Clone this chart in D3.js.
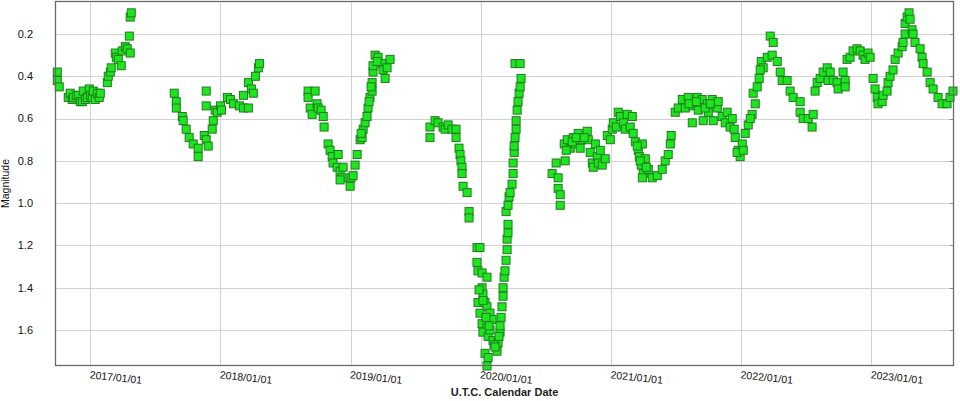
<!DOCTYPE html>
<html>
<head>
<meta charset="utf-8">
<script src="https://cdn.jsdelivr.net/npm/d3@7"></script>
<style>
  body { margin: 0; background: #fff; }
  svg { display: block; font-family: "Liberation Sans", Arial, sans-serif; }
</style>
</head>
<body>
<div id="chart"></div>
<script>
const season2016 = [
  [2016.747,0.38],[2016.747,0.42],[2016.762,0.45],[2016.831,0.50],[2016.846,0.48],[2016.862,0.51],
  [2016.869,0.50],[2016.892,0.49],[2016.908,0.49],[2016.923,0.52],[2016.939,0.52],[2016.946,0.47],
  [2016.962,0.51],[2016.977,0.50],[2016.992,0.46],[2017.000,0.49],[2017.015,0.50],[2017.023,0.47],
  [2017.038,0.51],[2017.054,0.48],[2017.069,0.50],[2017.077,0.48],[2017.131,0.43],[2017.138,0.40],
  [2017.154,0.38],[2017.161,0.36],[2017.192,0.29],[2017.200,0.31],[2017.215,0.32],[2017.238,0.35],
  [2017.246,0.28],[2017.269,0.26],[2017.284,0.27],[2017.307,0.29],[2017.300,0.21],[2017.307,0.12],
  [2017.315,0.10]
];
const season2017 = [
  [2017.645,0.48],[2017.661,0.52],[2017.661,0.55],[2017.707,0.59],[2017.714,0.61],[2017.737,0.65],
  [2017.760,0.69],[2017.791,0.72],[2017.829,0.74],[2017.829,0.78],[2017.876,0.68],[2017.891,0.70],
  [2017.906,0.73],[2017.891,0.47],[2017.891,0.54],[2017.937,0.65],[2017.945,0.61],[2017.960,0.56],
  [2017.975,0.57],[2018.000,0.54],[2018.008,0.56],[2018.054,0.50],[2018.077,0.51],[2018.100,0.53],
  [2018.146,0.54],[2018.177,0.49],[2018.177,0.55],[2018.215,0.43],[2018.215,0.55],[2018.238,0.46],
  [2018.253,0.48],[2018.269,0.40],[2018.292,0.36],[2018.300,0.34]
];
const season2018 = [
  [2018.674,0.47],[2018.674,0.50],[2018.728,0.47],[2018.690,0.55],[2018.705,0.58],[2018.743,0.53],
  [2018.751,0.55],[2018.774,0.56],[2018.790,0.59],[2018.797,0.64],[2018.828,0.72],[2018.843,0.75],
  [2018.859,0.78],[2018.866,0.81],[2018.897,0.83],[2018.905,0.77],[2018.920,0.85],[2018.935,0.88],
  [2018.943,0.83],[2018.920,0.89],[2018.997,0.92],[2019.004,0.88],[2019.020,0.87],[2019.035,0.82],
  [2019.051,0.77],[2019.074,0.70],[2019.089,0.69],[2019.097,0.65],[2019.112,0.62],[2019.127,0.59],
  [2019.135,0.55],[2019.150,0.50],[2019.166,0.47],[2019.166,0.43],[2019.173,0.38],[2019.173,0.35],
  [2019.189,0.30],[2019.212,0.31],[2019.243,0.34],[2019.250,0.37],[2019.266,0.41],[2019.281,0.36],
  [2019.304,0.32],[2019.082,0.67],[2019.143,0.52],[2019.158,0.45],[2019.205,0.33]
];
const season2019 = [
  [2019.611,0.64],[2019.611,0.69],[2019.650,0.61],[2019.673,0.62],[2019.711,0.64],[2019.727,0.65],
  [2019.750,0.63],[2019.780,0.65],[2019.811,0.65],[2019.811,0.69],[2019.834,0.74],[2019.842,0.77],
  [2019.849,0.80],[2019.857,0.83],[2019.857,0.86],[2019.865,0.92],[2019.896,0.95],[2019.911,1.04],
  [2019.911,1.07],[2019.972,1.21],[2019.995,1.21],[2019.972,1.28],[2019.980,1.32],[2020.011,1.33],
  [2020.049,1.35],[2020.011,1.40],[2020.018,1.43],[2019.980,1.47],[2020.034,1.47],[2020.049,1.49],
  [2019.995,1.52],[2020.072,1.52],[2020.011,1.57],[2020.049,1.59],[2020.088,1.55],[2020.018,1.61],
  [2020.057,1.63],[2020.095,1.65],[2020.034,1.71],[2020.057,1.73],[2020.049,1.77],[2020.126,1.70],
  [2020.134,1.66],[2020.149,1.61],[2020.149,1.58],[2020.157,1.54],[2020.164,1.49],[2020.172,1.44],
  [2020.172,1.40],[2020.180,1.35],[2020.187,1.32],[2020.195,1.27],[2020.203,1.22],[2020.203,1.17],
  [2020.210,1.14],[2020.210,1.10],[2020.195,1.04],[2020.210,1.01],[2020.218,0.97],[2020.226,0.95],
  [2020.241,0.91],[2020.249,0.86],[2020.249,0.81],[2020.257,0.76],[2020.257,0.73],[2020.264,0.69],
  [2020.272,0.65],[2020.272,0.61],[2020.280,0.56],[2020.287,0.52],[2020.295,0.48],[2020.303,0.45],
  [2020.310,0.41],[2020.264,0.34],[2020.303,0.34],[2020.018,1.46],[2020.041,1.54],[2020.072,1.60],
  [2020.103,1.67],[2019.988,1.41],[2020.065,1.58],[2020.111,1.68],[2020.141,1.63]
];
const season2020 = [
  [2020.548,0.86],[2020.579,0.81],[2020.594,0.88],[2020.594,0.93],[2020.610,0.96],[2020.610,1.01],
  [2020.641,0.72],[2020.648,0.80],[2020.664,0.70],[2020.687,0.74],[2020.710,0.69],[2020.725,0.72],
  [2020.748,0.67],[2020.763,0.74],[2020.779,0.70],[2020.817,0.66],[2020.825,0.70],[2020.840,0.76],
  [2020.856,0.81],[2020.863,0.83],[2020.879,0.72],[2020.894,0.78],[2020.902,0.81],[2020.917,0.75],
  [2020.932,0.82],[2020.955,0.79],[2020.971,0.68],[2020.994,0.70],[2021.009,0.65],[2021.017,0.62],
  [2021.040,0.64],[2021.055,0.57],[2021.071,0.59],[2021.094,0.62],[2021.109,0.65],[2021.124,0.58],
  [2021.147,0.64],[2021.163,0.59],[2021.170,0.67],[2021.186,0.71],[2021.209,0.75],[2021.217,0.78],
  [2021.232,0.82],[2021.240,0.72],[2021.247,0.86],[2021.263,0.79],[2021.286,0.84],[2021.240,0.88],
  [2021.316,0.88],[2021.355,0.87],[2021.393,0.84],[2021.416,0.80],[2021.439,0.77],[2021.455,0.72],
  [2021.462,0.68],[2020.656,0.75],[2020.702,0.71],[2020.733,0.69],[2020.794,0.69],[2021.201,0.73],
  [2021.224,0.80],[2021.270,0.83]
];
const season2021 = [
  [2021.493,0.57],[2021.516,0.55],[2021.547,0.51],[2021.570,0.55],[2021.593,0.50],[2021.624,0.62],
  [2021.631,0.54],[2021.662,0.50],[2021.670,0.56],[2021.700,0.51],[2021.708,0.61],[2021.739,0.53],
  [2021.747,0.57],[2021.777,0.51],[2021.785,0.61],[2021.816,0.55],[2021.823,0.52],[2021.854,0.59],
  [2021.877,0.62],[2021.892,0.57],[2021.915,0.64],[2021.931,0.60],[2021.954,0.69],[2021.977,0.75],
  [2021.992,0.78],[2022.008,0.72],[2021.969,0.76],[2022.031,0.67],[2022.054,0.63],[2022.084,0.58],
  [2022.092,0.48],[2022.108,0.53],[2022.123,0.45],[2022.138,0.41],[2022.154,0.33],[2022.169,0.36],
  [2022.200,0.31],[2022.223,0.21],[2022.246,0.24],[2022.238,0.30],[2022.277,0.33],[2022.300,0.38],
  [2022.315,0.42],[2022.353,0.42],[2022.376,0.47],[2022.399,0.50],[2022.453,0.52],[2022.453,0.57],
  [2022.476,0.60],[2022.515,0.60],[2022.545,0.64],[2022.553,0.58],[2021.600,0.53],[2021.655,0.52],
  [2021.723,0.55],[2021.762,0.53],[2021.946,0.65],[2022.016,0.75],[2022.070,0.60],[2022.146,0.37]
];
const season2022 = [
  [2022.568,0.47],[2022.584,0.43],[2022.607,0.41],[2022.630,0.38],[2022.661,0.36],[2022.668,0.42],
  [2022.684,0.38],[2022.707,0.42],[2022.737,0.43],[2022.745,0.46],[2022.783,0.38],[2022.799,0.42],
  [2022.799,0.45],[2022.814,0.32],[2022.837,0.31],[2022.860,0.28],[2022.891,0.27],[2022.914,0.28],
  [2022.937,0.30],[2022.952,0.32],[2022.975,0.29],[2022.991,0.31],[2023.014,0.41],[2023.029,0.46],
  [2023.045,0.50],[2023.052,0.53],[2023.083,0.52],[2023.091,0.49],[2023.121,0.47],[2023.129,0.43],
  [2023.144,0.40],[2023.167,0.37],[2023.183,0.32],[2023.206,0.29],[2023.237,0.26],[2023.244,0.24],
  [2023.260,0.20],[2023.260,0.15],[2023.275,0.12],[2023.290,0.10],[2023.298,0.13],[2023.313,0.18],
  [2023.321,0.20],[2023.336,0.24],[2023.375,0.27],[2023.390,0.31],[2023.398,0.34],[2023.429,0.38],
  [2023.452,0.43],[2023.475,0.46],[2023.513,0.50],[2023.544,0.53],[2023.582,0.53],[2023.605,0.50],
  [2023.628,0.47]
];
const seasons = [season2016, season2017, season2018, season2019, season2020, season2021, season2022];

const magTicks = [0.2, 0.4, 0.6, 0.8, 1.0, 1.2, 1.4, 1.6];
const magDomain = [0.044, 1.77];
const dateDomain = ["2016-09-24", "2023-08-21"];
const xTitle = "U.T.C. Calendar Date";
const yTitle = "Magnitude";

const W = 960, H = 401;
const margin = {top: 1, right: 6, bottom: 35, left: 55};
const width = W - margin.left - margin.right;
const height = H - margin.top - margin.bottom;

// decimal year -> Date (UTC)
function toDate(yr) {
  const y = Math.floor(yr);
  const start = Date.UTC(y, 0, 1), end = Date.UTC(y + 1, 0, 1);
  return new Date(start + (yr - y) * (end - start));
}

const svg = d3.select("#chart").append("svg")
  .attr("width", W)
  .attr("height", H);

const g = svg.append("g")
  .attr("transform", `translate(${margin.left},${margin.top})`);

const x = d3.scaleUtc()
  .domain(dateDomain.map(d => new Date(d + "T00:00:00Z")))
  .range([0, width]);

const y = d3.scaleLinear()
  .domain(magDomain)
  .range([0, height]);

const yearTicks = x.ticks(d3.utcYear.every(1));

// grid
g.append("g").selectAll("line")
  .data(magTicks)
  .join("line")
  .attr("x1", 0).attr("x2", width)
  .attr("y1", d => Math.round(y(d)) + 0.5).attr("y2", d => Math.round(y(d)) + 0.5)
  .attr("stroke", "#d2d2d2");

g.append("g").selectAll("line")
  .data(yearTicks)
  .join("line")
  .attr("x1", d => Math.round(x(d)) + 0.5).attr("x2", d => Math.round(x(d)) + 0.5)
  .attr("y1", 0).attr("y2", height)
  .attr("stroke", "#d2d2d2");

// small ticks on right edge
g.append("g").selectAll("line")
  .data(magTicks)
  .join("line")
  .attr("x1", width - 4).attr("x2", width)
  .attr("y1", d => Math.round(y(d)) + 0.5).attr("y2", d => Math.round(y(d)) + 0.5)
  .attr("stroke", "#888");

// points
const pts = seasons.flat();
g.append("g").selectAll("rect")
  .data(pts)
  .join("rect")
  .attr("x", d => x(toDate(d[0])) - 4)
  .attr("y", d => y(d[1]) - 4)
  .attr("width", 8)
  .attr("height", 8)
  .attr("fill", "#1ee61e")
  .attr("stroke", "#1f7a1f")
  .attr("stroke-width", 1);

// frame
g.append("rect")
  .attr("x", 0.5).attr("y", 0.5)
  .attr("width", width - 1).attr("height", height - 1)
  .attr("fill", "none")
  .attr("stroke", "#6a6a6a")
  .attr("stroke-width", 1.3);

// y tick labels
g.append("g").selectAll("text")
  .data(magTicks)
  .join("text")
  .attr("x", -22)
  .attr("y", d => y(d))
  .attr("dy", "0.35em")
  .attr("text-anchor", "end")
  .attr("font-size", 11)
  .attr("fill", "#111")
  .text(d3.format(".1f"));

// x tick labels, slightly tilted
const fmt = d3.utcFormat("%Y/%m/%d");
g.append("g").selectAll("text")
  .data(yearTicks)
  .join("text")
  .attr("transform", d => `translate(${x(d)},${height + 4}) rotate(6)`)
  .attr("dy", "0.8em")
  .attr("text-anchor", "start")
  .attr("font-size", 10.5)
  .attr("fill", "#111")
  .text(fmt);

// axis titles
svg.append("text")
  .attr("x", margin.left + width / 2)
  .attr("y", H - 5)
  .attr("text-anchor", "middle")
  .attr("font-size", 11)
  .attr("font-weight", "bold")
  .attr("fill", "#222")
  .text(xTitle);

svg.append("text")
  .attr("transform", `translate(9,${margin.top + height / 2}) rotate(-90)`)
  .attr("text-anchor", "middle")
  .attr("font-size", 10.5)
  .attr("fill", "#111")
  .text(yTitle);
</script>
</body>
</html>
